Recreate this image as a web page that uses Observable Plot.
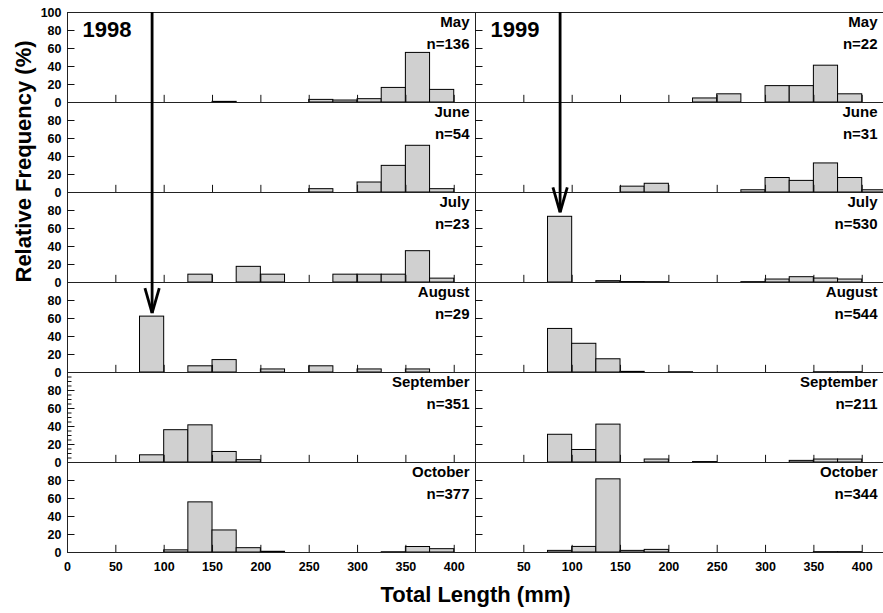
<!DOCTYPE html>
<html>
<head>
<meta charset="utf-8">
<script src="https://cdn.jsdelivr.net/npm/d3@7"></script>
<script src="https://cdn.jsdelivr.net/npm/@observablehq/plot@0.6"></script>
<style>
  html, body { margin: 0; padding: 0; background: #fff; overflow: hidden; }
  svg { display: block; }
</style>
</head>
<body>
<div id="chart"></div>
<script>
// ---------- data ----------
const years = ["1998", "1999"];
const months = ["May", "June", "July", "August", "September", "October"];
const binStarts = [0, 25, 50, 75, 100, 125, 150, 175, 200, 225, 250, 275, 300, 325, 350, 375, 400];
const binWidth = 25;
const n1998 = [136, 54, 23, 29, 351, 377];
const n1999 = [22, 31, 530, 544, 211, 344];

// relative frequency (%) per 25 mm bin (0–25 ... 400–425)
const may1998  = [0, 0, 0, 0, 0, 0, 0.7, 0, 0, 0, 2.9, 2.2, 3.7, 16.2, 55.1, 14.0, 0];
const jun1998  = [0, 0, 0, 0, 0, 0, 0, 0, 0, 0, 3.7, 0, 11.1, 29.6, 51.9, 3.7, 0];
const jul1998  = [0, 0, 0, 0, 0, 8.7, 0, 17.4, 8.7, 0, 0, 8.7, 8.7, 8.7, 34.8, 4.3, 0];
const aug1998  = [0, 0, 0, 62.1, 0, 6.9, 13.8, 0, 3.4, 0, 6.9, 0, 3.4, 0, 3.4, 0, 0];
const sep1998  = [0, 0, 0, 8.0, 35.9, 41.3, 11.7, 2.6, 0, 0, 0, 0, 0, 0, 0, 0, 0];
const oct1998  = [0, 0, 0, 0, 2.4, 55.7, 24.5, 4.8, 0.8, 0, 0, 0, 0, 0.3, 6.1, 3.7, 0];

const may1999  = [0, 0, 0, 0, 0, 0, 0, 0, 0, 4.5, 9.1, 0, 18.2, 18.2, 40.9, 9.1, 0];
const jun1999  = [0, 0, 0, 0, 0, 0, 6.5, 9.7, 0, 0, 0, 2.5, 16.1, 12.9, 32.3, 16.1, 2.5];
const jul1999  = [0, 0, 0, 73.0, 0, 1.5, 0.5, 0.4, 0, 0, 0, 0.4, 3.3, 5.9, 4.4, 3.3, 0];
const aug1999  = [0, 0, 0, 48.4, 31.9, 14.7, 0.7, 0, 0.3, 0, 0, 0, 0, 0, 0.3, 0.3, 0];
const sep1999  = [0, 0, 0, 30.8, 13.9, 42.1, 0, 3.3, 0, 0.5, 0, 0, 0, 1.8, 3.3, 3.3, 0];
const oct1999  = [0, 0, 0, 1.8, 6.2, 81.3, 1.8, 2.9, 0, 0, 0, 0, 0, 0, 0.4, 0.4, 0];

const xTickValues = [0, 50, 100, 150, 200, 250, 300, 350, 400];
const yTickValues = [0, 20, 40, 60, 80, 100];

// arrows marking the new cohort (mode bin)
const arrowYear = ["1998", "1999"];
const arrowFrom = ["May", "May"];
const arrowTo = ["August", "July"];
const arrowBin = [75, 75];
const arrowTip = [66, 78];

// ---------- tables ----------
const freq = {
  "1998": [may1998, jun1998, jul1998, aug1998, sep1998, oct1998],
  "1999": [may1999, jun1999, jul1999, aug1999, sep1999, oct1999]
};
const sizes = {"1998": n1998, "1999": n1999};

const bars = [];
for (const yr of years) months.forEach((m, mi) => {
  freq[yr][mi].forEach((v, bi) => {
    if (v > 0) bars.push({year: yr, month: m, x1: binStarts[bi], x2: binStarts[bi] + binWidth, value: v});
  });
});

const panelLabels = [];
for (const yr of years) months.forEach((m, mi) => panelLabels.push({year: yr, month: m, n: "n=" + sizes[yr][mi]}));

const arrowSegs = [], arrowHeads = [];
arrowYear.forEach((yr, i) => {
  const a = months.indexOf(arrowFrom[i]), b = months.indexOf(arrowTo[i]);
  const x = arrowBin[i] + binWidth / 2;
  for (let m = a; m <= b; m++) arrowSegs.push({year: yr, month: months[m], x, y1: 100, y2: m === b ? arrowTip[i] : 0});
  arrowHeads.push({year: yr, month: months[b], x, tip: arrowTip[i]});
});

// ---------- layout ----------
const W = 883, H = 613, ML = 66, MR = 0, MT = 9, MB = 59;
const panelW = (W - ML - MR) / years.length;
const panelH = (H - MT - MB) / months.length;
const FONT = "'Liberation Sans', Arial, Helvetica, sans-serif";
const ink = "#111";

const wing = {
  draw(context, l) { context.moveTo(0, 0); context.lineTo(0, -l); }
};

const minorTicks = d3.range(5, 100, 5).filter(v => v % 20 !== 0);

const chart = Plot.plot({
  width: W, height: H,
  marginLeft: ML, marginRight: MR, marginTop: MT, marginBottom: MB,
  style: {fontFamily: FONT, color: "#000", background: "#fff", overflow: "visible"},
  fx: {domain: years, padding: 0, axis: null},
  fy: {domain: months, padding: 0, axis: null},
  x: {domain: [0, 422]},
  y: {domain: [0, 100]},
  marks: [
    Plot.rectY(bars, {x1: "x1", x2: "x2", y: "value", fx: "year", fy: "month",
      fill: "#d0d0d0", stroke: "#000", strokeWidth: 1}),
    Plot.frame({stroke: "#222", strokeWidth: 1}),
    // inward ticks
    Plot.tickY(yTickValues.filter(v => v > 0 && v < 100), {y: d => d, stroke: ink, insetRight: panelW - 8}),
    Plot.tickX(xTickValues.filter(v => v > 0), {x: d => d, stroke: ink, insetTop: panelH - 8}),
    Plot.tickY(minorTicks, {y: d => d, fx: () => "1998", fy: () => "September", stroke: ink, insetRight: panelW - 5}),
    // tick labels
    Plot.axisY({ticks: yTickValues.filter(v => v < 100), tickSize: 0, tickPadding: 6,
      fontSize: 12.5, fontWeight: "bold", label: null}),
    Plot.text([100], {y: d => d, text: d => String(d), fx: () => "1998", fy: () => "May",
      frameAnchor: "left", dx: -6, textAnchor: "end", fontSize: 12.5, fontWeight: "bold"}),
    Plot.axisX({ticks: xTickValues.filter(v => v > 0), tickSize: 0, tickPadding: 10,
      fontSize: 12.5, fontWeight: "bold", label: null}),
    Plot.text([0], {x: d => d, text: d => String(d), fx: () => "1998", fy: () => "October",
      frameAnchor: "bottom", dy: 10, lineAnchor: "top", fontSize: 12.5, fontWeight: "bold"}),
    // arrows
    Plot.ruleX(arrowSegs, {x: "x", y1: "y1", y2: "y2", fx: "year", fy: "month", stroke: "#000", strokeWidth: 2.8}),
    Plot.vector(arrowHeads, {x: "x", y: "tip", fx: "year", fy: "month", anchor: "start", length: 26, rotate: -16,
      shape: wing, stroke: "#000", strokeWidth: 2.8, strokeLinecap: "butt"}),
    Plot.vector(arrowHeads, {x: "x", y: "tip", fx: "year", fy: "month", anchor: "start", length: 26, rotate: 16,
      shape: wing, stroke: "#000", strokeWidth: 2.8, strokeLinecap: "butt"}),
    // panel labels
    Plot.text(panelLabels, {fx: "year", fy: "month", text: "month", frameAnchor: "top-right",
      dx: -6, dy: 9.5, lineAnchor: "middle", textAnchor: "end", fontSize: 15, fontWeight: "bold"}),
    Plot.text(panelLabels, {fx: "year", fy: "month", text: "n", frameAnchor: "top-right",
      dx: -6, dy: 32, lineAnchor: "middle", textAnchor: "end", fontSize: 15, fontWeight: "bold"}),
    Plot.text(years, {fx: d => d, fy: () => "May", text: d => d, frameAnchor: "top-left",
      dx: 15, dy: 17, lineAnchor: "middle", textAnchor: "start", fontSize: 22, fontWeight: "bold"}),
    // axis titles
    Plot.text(["Total Length (mm)"], {facet: "super", text: d => d, frameAnchor: "bottom", dy: 42,
      lineAnchor: "middle", fontSize: 22, fontWeight: "bold"}),
    Plot.text(["Relative Frequency (%)"], {facet: "super", text: d => d, frameAnchor: "left", dx: -44,
      rotate: -90, lineAnchor: "middle", fontSize: 22, fontWeight: "bold"})
  ]
});
document.getElementById("chart").appendChild(chart);
</script>
</body>
</html>
